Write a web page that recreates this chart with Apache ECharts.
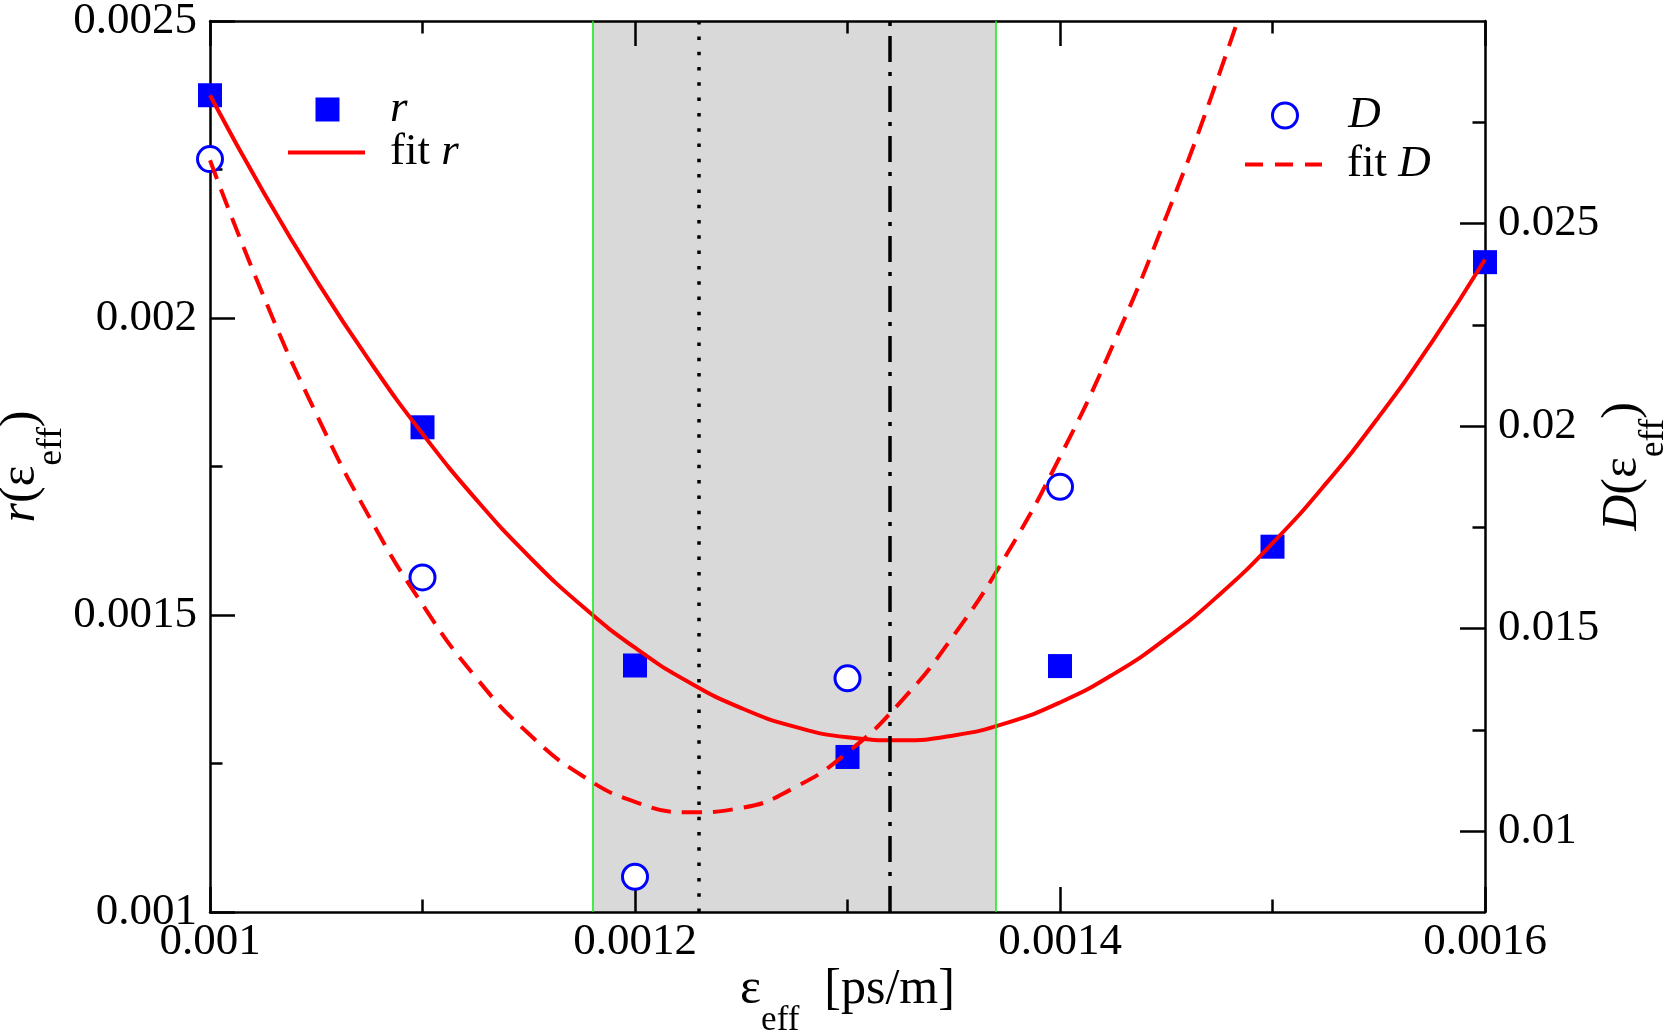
<!DOCTYPE html>
<html><head><meta charset="utf-8">
<script src="https://cdn.jsdelivr.net/npm/echarts@6/dist/echarts.min.js"></script>
<style>html,body{margin:0;padding:0;background:#fff}#c{width:1673px;height:1031px}</style>
</head><body><div id="c"></div>
<script>
// ---- data ----
const epsX = [0.001, 0.0011, 0.0012, 0.0013, 0.0014, 0.0015, 0.0016];
const rValues = [0.002375, 0.001816, 0.001415, 0.001261, 0.001414, 0.001615, 0.002094];
const dX = [0.001, 0.0011, 0.0012, 0.0013, 0.0014];
const dValues = [0.02659, 0.01626, 0.00887, 0.01377, 0.0185];
const fitX = [0.001, 0.001025, 0.00105, 0.001075, 0.0011, 0.001125, 0.00115, 0.001175, 0.0012,
  0.001225, 0.00125, 0.001275, 0.0013, 0.001325, 0.00135, 0.001375, 0.0014, 0.001425, 0.00145,
  0.001475, 0.0015, 0.001525, 0.00155, 0.001575, 0.0016];
const fitRValues = [0.0023751, 0.002213, 0.002064, 0.0019281, 0.0018052, 0.0016955, 0.0015989, 0.0015154,
  0.0014449, 0.0013876, 0.0013433, 0.0013121, 0.0012941, 0.0012891, 0.0012972, 0.0013184, 0.0013527,
  0.0014001, 0.0014606, 0.0015342, 0.0016209, 0.0017207, 0.0018335, 0.0019595, 0.0020985];
const fitDValues = [0.02656, 0.02323, 0.0203, 0.01775, 0.01559, 0.0138, 0.0124, 0.01137, 0.01072,
  0.01046, 0.01057, 0.01107, 0.01194, 0.01319, 0.01483, 0.01684, 0.01924, 0.02201, 0.02517, 0.0287, 0.03262];
const bandRange = [0.00118, 0.00137];
const dottedX = 0.00123;
const dashDotX = 0.00132;
const xTickLabels = ['0.001', '0.0012', '0.0014', '0.0016'];
const rTickLabels = ['0.001', '0.0015', '0.002', '0.0025'];
const dTicks = [0.01, 0.015, 0.02, 0.025];
const dMinorTicks = [0.0125, 0.0175, 0.0225, 0.0275];

const FONT = 'Liberation Serif';
const BLUE = '#0000ff', RED = '#ff0000';

function pair(xs, ys) { return ys.map((y, i) => [xs[i], y]); }
function fmt(v) { return String(parseFloat(Number(v).toPrecision(6))); }

const titleRich = {
  n: { fontFamily: FONT, fontSize: 50, lineHeight: 56, color: '#000' },
  i: { fontFamily: FONT, fontSize: 50, lineHeight: 56, fontStyle: 'italic', color: '#000' },
  s: { fontFamily: FONT, fontSize: 35, lineHeight: 35, padding: [62, 0, 0, 0], color: '#000' }
};
function legendRich(gap) {
  return {
    g: { width: gap, height: 10 },
    n: { fontFamily: FONT, fontSize: 45, lineHeight: 42, color: '#000' },
    i: { fontFamily: FONT, fontSize: 45, lineHeight: 42, fontStyle: 'italic', color: '#000' }
  };
}
function legendFmt(name) {
  if (name.startsWith('fit ')) return '{g|}{n|fit }{i|' + name.slice(4) + '}';
  return '{g|}{i|' + name + '}';
}
function oneLegend(item, left, centerY, w, h, gap) {
  return {
    data: [item], orient: 'vertical', left: left, top: centerY - 21, padding: 0,
    itemWidth: w, itemHeight: h, itemGap: 0, selectedMode: false, formatter: legendFmt,
    textStyle: { fontFamily: FONT, fontSize: 45, color: '#000', rich: legendRich(gap) }
  };
}
const solidIcon = 'path://M0,0H77V4H0Z';
const dashIcon = 'path://M0,0H18V4H0Z M30,0H48V4H30Z M60,0H77V4H60Z';

const axisLine = { show: true, lineStyle: { color: '#000', width: 2.5 } };
const tickStyle = { color: '#000', width: 2.5 };
const labelStyle = { fontFamily: FONT, fontSize: 45, color: '#000' };

const chart = echarts.init(document.getElementById('c'), null, { renderer: 'canvas' });
chart.setOption({
  animation: false,
  backgroundColor: '#fff',
  grid: { left: 210, right: 188, top: 21, bottom: 119, containLabel: false, outerBoundsMode: 'none' },
  legend: [
    oneLegend({ name: 'r', icon: 'rect', itemStyle: { color: BLUE, opacity: 1 } }, 315.5, 108, 24, 24, 45.5),
    oneLegend({ name: 'fit r', icon: solidIcon, itemStyle: { color: RED, borderWidth: 0 } }, 288, 151, 77, 4.5, 20),
    oneLegend({ name: 'D', icon: 'circle', itemStyle: { color: '#fff', borderColor: BLUE, borderWidth: 3, opacity: 1 } }, 1271, 114, 25, 25, 45.7),
    oneLegend({ name: 'fit D', icon: dashIcon, itemStyle: { color: RED, borderWidth: 0 } }, 1245, 163, 77, 4.5, 20)
  ],
  xAxis: [
    {
      type: 'value', position: 'bottom', min: 0.001, max: 0.0016, interval: 0.0002,
      axisLine, splitLine: { show: false },
      axisTick: { inside: true, length: 25, lineStyle: tickStyle },
      minorTick: { show: true, splitNumber: 2, length: 12.5, lineStyle: tickStyle },
      axisLabel: { ...labelStyle, margin: 8, formatter: v => { const s = fmt(v); return xTickLabels.includes(s) ? s : ''; } },
      name: '{n|ε}{s|eff}{n|  [ps/m]}', nameLocation: 'middle', nameGap: 50, nameMoveOverlap: false,
      nameTextStyle: { rich: titleRich }
    },
    {
      type: 'value', position: 'top', min: 0.001, max: 0.0016, interval: 0.0002,
      axisLine, splitLine: { show: false },
      axisTick: { inside: true, length: 25, lineStyle: tickStyle },
      minorTick: { show: true, splitNumber: 2, length: 12.5, lineStyle: tickStyle },
      axisLabel: { show: false }
    }
  ],
  yAxis: [
    {
      type: 'value', position: 'left', min: 0.001, max: 0.0025, interval: 0.0005,
      axisLine, splitLine: { show: false },
      axisTick: { inside: true, length: 25, lineStyle: tickStyle },
      minorTick: { show: true, splitNumber: 2, length: 12.5, lineStyle: tickStyle },
      axisLabel: { ...labelStyle, margin: 13, formatter: v => { const s = fmt(v); return rTickLabels.includes(s) ? s : ''; } },
      name: '{i|r}{n|(ε}{s|eff}{n|)}', nameLocation: 'middle', nameRotate: 90, nameGap: 161, nameMoveOverlap: false,
      nameTextStyle: { rich: titleRich }
    },
    {
      type: 'value', position: 'right', min: 0.008, max: 0.03,
      axisLine, splitLine: { show: false },
      axisTick: { inside: true, length: 25, lineStyle: tickStyle, customValues: dTicks },
      axisLabel: { ...labelStyle, margin: 13, customValues: dTicks, formatter: v => fmt(v) },
      name: '{i|D}{n|(ε}{s|eff}{n|)}', nameLocation: 'middle', nameRotate: 90, nameGap: 110, nameMoveOverlap: false,
      nameTextStyle: { rich: titleRich }
    },
    {
      type: 'value', position: 'right', min: 0.008, max: 0.03,
      axisLine: { show: false }, splitLine: { show: false },
      axisTick: { inside: true, length: 12.5, lineStyle: tickStyle, customValues: dMinorTicks },
      axisLabel: { show: false, customValues: dMinorTicks }
    }
  ],
  series: [
    {
      name: 'band', type: 'line', data: [], xAxisIndex: 0, yAxisIndex: 0, silent: true, z: -1,
      markArea: {
        silent: true, z: -1, itemStyle: { color: '#d9d9d9' }, label: { show: false },
        data: [[{ xAxis: bandRange[0] }, { xAxis: bandRange[1] }]]
      }
    },
    {
      name: 'r', type: 'scatter', xAxisIndex: 0, yAxisIndex: 0, z: 3,
      symbol: 'rect', symbolSize: 24, itemStyle: { color: BLUE, opacity: 1 },
      data: pair(epsX, rValues)
    },
    {
      name: 'D', type: 'scatter', xAxisIndex: 0, yAxisIndex: 1, z: 3,
      symbol: 'circle', symbolSize: 25, itemStyle: { color: '#fff', borderColor: BLUE, borderWidth: 3, opacity: 1 },
      data: pair(dX, dValues)
    },
    {
      name: 'fit r', type: 'line', xAxisIndex: 0, yAxisIndex: 0, z: 4,
      symbol: 'none', smooth: true, clip: true,
      lineStyle: { color: RED, width: 4 }, itemStyle: { color: RED },
      data: pair(fitX, fitRValues),
      markLine: {
        silent: true, symbol: 'none', label: { show: false }, animation: false, precision: 8,
        data: [
          { xAxis: bandRange[0], lineStyle: { color: '#11ee11', width: 1.5, type: 'solid' } },
          { xAxis: bandRange[1], lineStyle: { color: '#11ee11', width: 1.5, type: 'solid' } },
          { xAxis: dottedX, lineStyle: { color: '#000', width: 3.5, type: [3.5, 11.8] } },
          { xAxis: dashDotX, lineStyle: { color: '#000', width: 3.5, type: [26, 10, 4, 10] } }
        ]
      }
    },
    {
      name: 'fit D', type: 'line', xAxisIndex: 0, yAxisIndex: 1, z: 4,
      symbol: 'none', smooth: true, clip: true,
      lineStyle: { color: RED, width: 4, type: [20, 11] }, itemStyle: { color: RED },
      data: pair(fitX.slice(0, fitDValues.length), fitDValues)
    }
  ]
});
</script>
</body></html>
